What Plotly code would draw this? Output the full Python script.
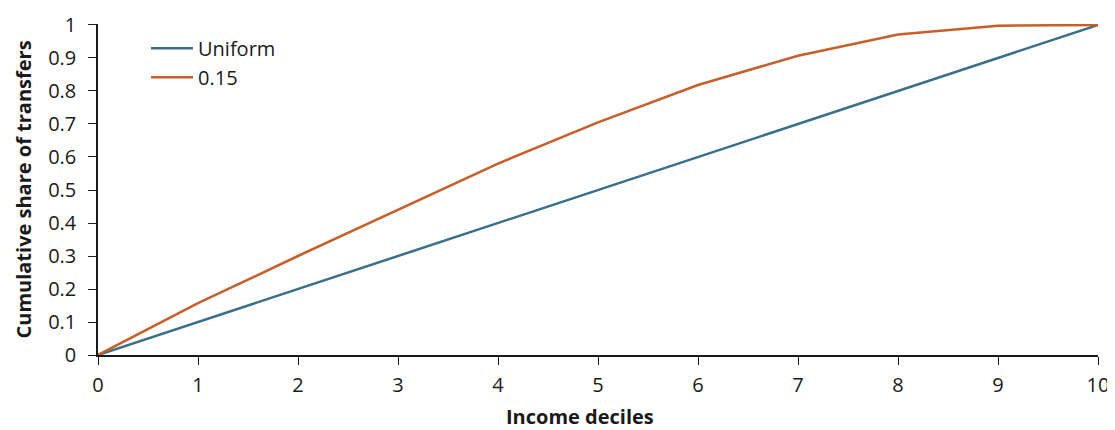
import plotly.graph_objects as go

deciles = [0, 1, 2, 3, 4, 5, 6, 7, 8, 9, 10]
uniform = [0, 0.1, 0.2, 0.3, 0.4, 0.5, 0.6, 0.7, 0.8, 0.9, 1.0]
share_015 = [0, 0.157, 0.300, 0.440, 0.580, 0.705, 0.818, 0.907, 0.971, 0.998, 1.0]
y_ticks = [0, 0.1, 0.2, 0.3, 0.4, 0.5, 0.6, 0.7, 0.8, 0.9, 1]
y_labels = ["0", "0.1", "0.2", "0.3", "0.4", "0.5", "0.6", "0.7", "0.8", "0.9", "1"]

BLUE = "#3a6f8c"
ORANGE = "#c85f2a"
FONT = "Open Sans"

fig = go.Figure()
fig.add_trace(go.Scatter(x=deciles, y=uniform, mode="lines", name="Uniform",
                         line=dict(color=BLUE, width=2.5)))
fig.add_trace(go.Scatter(x=deciles, y=share_015, mode="lines", name="0.15",
                         line=dict(color=ORANGE, width=2.5)))

fig.update_layout(
    width=1107, height=422,
    margin=dict(l=90, r=17, t=16, b=75),
    plot_bgcolor="white", paper_bgcolor="white",
    font=dict(family=FONT, size=20, color="#1a1a1a"),
    showlegend=True,
    legend=dict(x=0.048, y=0.986, xanchor="left", yanchor="top",
                bgcolor="rgba(0,0,0,0)", font=dict(size=20), itemwidth=42,
                tracegroupgap=4),
    xaxis=dict(range=[0, 10], tickvals=deciles, ticks="outside", ticklen=8,
               tickcolor="#1a1a1a", showline=True, linecolor="#1a1a1a", linewidth=1.5,
               showgrid=False, zeroline=False, automargin=False, ticklabelstandoff=3),
    yaxis=dict(range=[0, 1.003], tickvals=y_ticks, ticktext=y_labels, ticks="outside",
               ticklen=8, tickcolor="#1a1a1a", showline=True, linecolor="#1a1a1a",
               linewidth=1.5, showgrid=False, zeroline=False, automargin=False,
               ticklabelstandoff=8),
    annotations=[
        dict(text="<b>Income deciles</b>", xref="paper", yref="paper",
             x=0.482, y=-0.187, xanchor="center", yanchor="middle",
             showarrow=False, font=dict(size=20), borderpad=0),
        dict(text="<b>Cumulative share of transfers</b>", xref="paper", yref="paper",
             x=-0.075, y=0.5, xanchor="center", yanchor="middle", textangle=-90,
             showarrow=False, font=dict(size=20)),
    ],
)

fig.write_html("out.html")
